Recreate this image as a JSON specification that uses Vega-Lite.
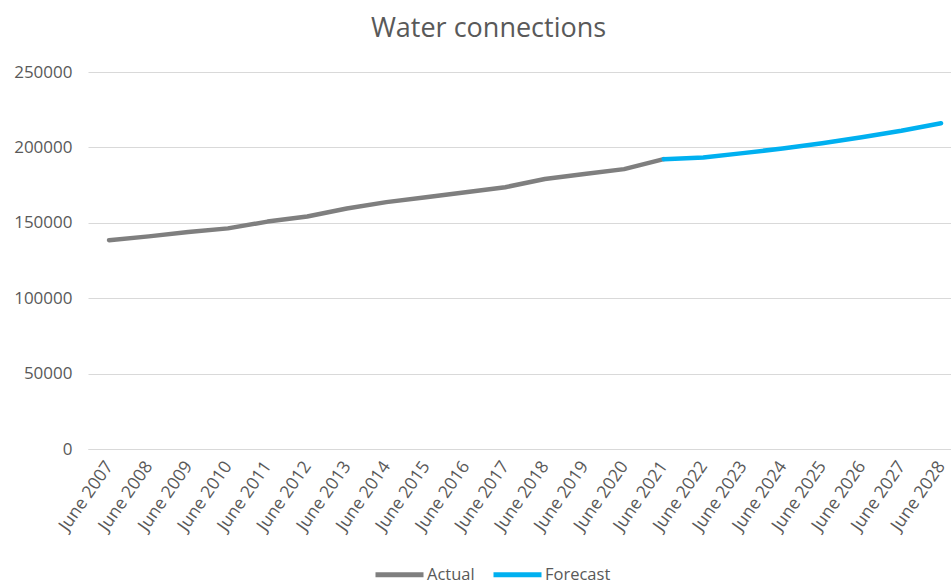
{
  "$schema": "https://vega.github.io/schema/vega-lite/v6.json",
  "width": 863,
  "height": 377,
  "autosize": {"type": "none"},
  "padding": {"left": 88, "top": 72, "right": 0, "bottom": 135},
  "background": "white",
  "title": {
    "text": "Water connections",
    "font": "Open Sans",
    "fontSize": 27,
    "fontWeight": "normal",
    "color": "#595959",
    "anchor": "middle",
    "frame": "group",
    "dx": -31,
    "offset": 20
  },
  "data": {
    "values": [
      {"period": "2007-06-30", "series": "Actual", "connections": 138500},
      {"period": "2008-06-30", "series": "Actual", "connections": 141000},
      {"period": "2009-06-30", "series": "Actual", "connections": 143900},
      {"period": "2010-06-30", "series": "Actual", "connections": 146300},
      {"period": "2011-06-30", "series": "Actual", "connections": 150800},
      {"period": "2012-06-30", "series": "Actual", "connections": 154200},
      {"period": "2013-06-30", "series": "Actual", "connections": 159500},
      {"period": "2014-06-30", "series": "Actual", "connections": 163700},
      {"period": "2015-06-30", "series": "Actual", "connections": 167000},
      {"period": "2016-06-30", "series": "Actual", "connections": 170300},
      {"period": "2017-06-30", "series": "Actual", "connections": 173600},
      {"period": "2018-06-30", "series": "Actual", "connections": 179000},
      {"period": "2019-06-30", "series": "Actual", "connections": 182300},
      {"period": "2020-06-30", "series": "Actual", "connections": 185600},
      {"period": "2021-06-30", "series": "Actual", "connections": 192200},
      {"period": "2021-06-30", "series": "Forecast", "connections": 192200},
      {"period": "2022-06-30", "series": "Forecast", "connections": 193300},
      {"period": "2023-06-30", "series": "Forecast", "connections": 196200},
      {"period": "2024-06-30", "series": "Forecast", "connections": 199300},
      {"period": "2025-06-30", "series": "Forecast", "connections": 202800},
      {"period": "2026-06-30", "series": "Forecast", "connections": 206700},
      {"period": "2027-06-30", "series": "Forecast", "connections": 211000},
      {"period": "2028-06-30", "series": "Forecast", "connections": 216000}
    ]
  },
  "mark": {"type": "line", "strokeWidth": 4.5, "strokeCap": "round", "strokeJoin": "round"},
  "encoding": {
    "x": {
      "field": "period",
      "type": "temporal",
      "scale": {
        "type": "utc",
        "domain": [
          {"year": 2006, "month": 12, "date": 18, "utc": true},
          {"year": 2028, "month": 9, "date": 30, "utc": true}
        ]
      },
      "axis": {
        "title": null,
        "values": [
          {"year": 2007, "month": 6, "date": 30, "utc": true},
          {"year": 2008, "month": 6, "date": 30, "utc": true},
          {"year": 2009, "month": 6, "date": 30, "utc": true},
          {"year": 2010, "month": 6, "date": 30, "utc": true},
          {"year": 2011, "month": 6, "date": 30, "utc": true},
          {"year": 2012, "month": 6, "date": 30, "utc": true},
          {"year": 2013, "month": 6, "date": 30, "utc": true},
          {"year": 2014, "month": 6, "date": 30, "utc": true},
          {"year": 2015, "month": 6, "date": 30, "utc": true},
          {"year": 2016, "month": 6, "date": 30, "utc": true},
          {"year": 2017, "month": 6, "date": 30, "utc": true},
          {"year": 2018, "month": 6, "date": 30, "utc": true},
          {"year": 2019, "month": 6, "date": 30, "utc": true},
          {"year": 2020, "month": 6, "date": 30, "utc": true},
          {"year": 2021, "month": 6, "date": 30, "utc": true},
          {"year": 2022, "month": 6, "date": 30, "utc": true},
          {"year": 2023, "month": 6, "date": 30, "utc": true},
          {"year": 2024, "month": 6, "date": 30, "utc": true},
          {"year": 2025, "month": 6, "date": 30, "utc": true},
          {"year": 2026, "month": 6, "date": 30, "utc": true},
          {"year": 2027, "month": 6, "date": 30, "utc": true},
          {"year": 2028, "month": 6, "date": 30, "utc": true}
        ],
        "labelExpr": "utcFormat(datum.value, '%B %Y')",
        "labelAngle": -55,
        "labelAlign": "right",
        "labelBaseline": "middle",
        "labelFont": "Open Sans",
        "labelFontSize": 17.5,
        "labelColor": "#595959",
        "labelPadding": 14,
        "labelOverlap": false,
        "labelFlush": false,
        "ticks": false,
        "domainColor": "#d9d9d9",
        "domainWidth": 1,
        "grid": false
      }
    },
    "y": {
      "field": "connections",
      "type": "quantitative",
      "scale": {"domain": [0, 250000], "nice": false},
      "axis": {
        "title": null,
        "values": [0, 50000, 100000, 150000, 200000, 250000],
        "format": "d",
        "labelFont": "Open Sans",
        "labelFontSize": 17,
        "labelColor": "#595959",
        "labelPadding": 16,
        "ticks": false,
        "domain": false,
        "gridColor": "#d9d9d9",
        "gridWidth": 1
      }
    },
    "color": {
      "field": "series",
      "type": "nominal",
      "scale": {"domain": ["Actual", "Forecast"], "range": ["#7f7f7f", "#00b0f0"]},
      "legend": {
        "title": null,
        "orient": "none",
        "legendX": 285,
        "legendY": 476,
        "direction": "horizontal",
        "symbolType": "stroke",
        "symbolSize": 2304,
        "symbolStrokeWidth": 5,
        "labelFont": "Open Sans",
        "labelFontSize": 16.5,
        "labelColor": "#595959",
        "labelOffset": 1,
        "columnPadding": 8
      }
    }
  },
  "config": {"view": {"stroke": null}}
}
